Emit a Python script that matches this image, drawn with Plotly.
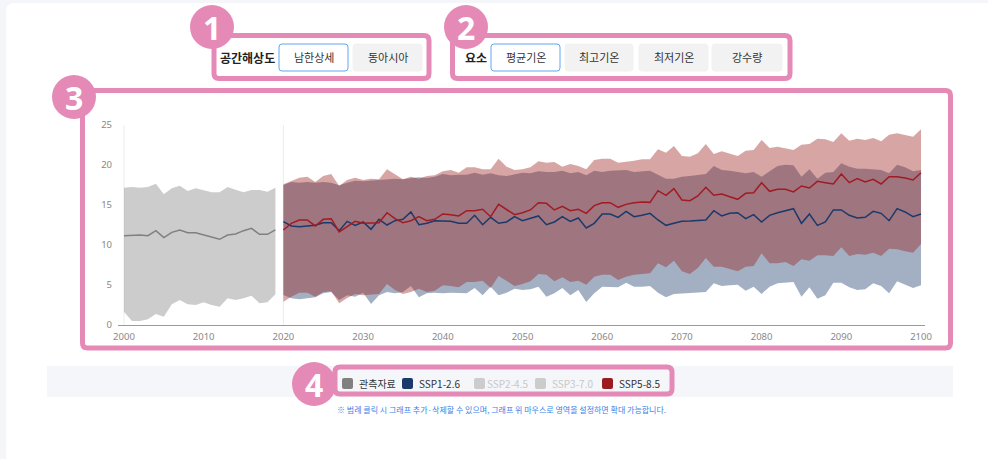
import plotly.graph_objects as go

# ---- figure size (pixels) ----
W, H = 988, 459

# ---- observed data 2000-2019 ----
obs_years = list(range(2000, 2020))
obs_mean = [11.17, 11.25, 11.25, 11.17, 11.79, 10.92, 11.58, 11.88, 11.54, 11.54,
            11.25, 10.96, 10.71, 11.25, 11.38, 11.79, 12.08, 11.33, 11.33, 11.88]
obs_upper = [17.17, 17.25, 17.17, 17.25, 17.67, 16.33, 17.08, 17.42, 16.75, 17.08,
             16.83, 16.58, 16.58, 17.25, 16.92, 16.58, 16.88, 16.88, 16.67, 17.17]
obs_lower = [1.67, 0.5, 0.5, 0.71, 1.38, 1.04, 2.58, 3.13, 2.58, 2.5,
             2.83, 2.5, 2.29, 3.33, 3.13, 3.33, 3.67, 2.71, 2.83, 3.83]

# ---- scenario projections 2020-2100 ----
proj_years = list(range(2020, 2101))

ssp126_mean = [12.92, 12.38, 12.29, 12.38, 12.46, 12.79, 12.79, 11.79, 12.96, 12.46,
               12.88, 11.96, 13.21, 12.5, 13.04, 13.21, 14.13, 12.54, 12.71, 13.04,
               13.04, 12.96, 12.71, 12.71, 13.71, 12.54, 13.46, 12.71, 12.88, 13.54,
               13.04, 13.29, 13.63, 12.54, 12.88, 13.54, 12.96, 13.38, 12.13, 12.71,
               13.88,
               13.88, 13.46, 14.21, 13.54, 13.71, 13.96, 13.13, 12.46, 12.71, 12.96,
               13.0, 13.04, 13.13, 14.29, 13.63, 13.96, 14.04, 13.29, 13.79, 12.88,
               13.71, 14.04, 14.29, 14.54, 12.71, 13.88, 12.46, 12.88, 14.38, 14.38,
               13.71, 13.38, 13.46, 14.21, 13.96, 13.04, 14.54, 14.13, 13.54, 13.88]
ssp126_upper = [17.5, 17.88, 17.79, 17.88, 17.79, 17.88, 17.79, 17.46, 17.79, 18.04,
                17.96, 18.04, 18.13, 18.29, 18.29, 18.21, 18.38, 18.46, 18.38, 18.54,
                18.88, 18.71, 18.79, 18.79, 19.04, 18.79, 18.96, 18.71, 18.63, 18.88,
                19.04, 18.96, 19.21, 19.13, 19.13, 19.29, 18.96, 19.13, 18.71, 19.29,
                19.13,
                19.29, 19.38, 19.38, 19.13, 19.21, 19.29, 18.79, 18.29, 18.29, 18.54,
                18.63, 18.71, 18.88, 19.88, 19.38, 19.29, 19.13, 18.96, 19.13, 18.54,
                19.21, 19.88, 20.04, 19.96, 18.54, 19.46, 18.29, 19.04, 19.13, 20.21,
                19.79, 19.54, 19.54, 19.46, 19.38, 18.96, 20.04, 19.71, 19.21, 19.38]
ssp126_lower = [3.75, 3.33, 3.21, 3.29, 3.46, 3.96, 4.13, 3.13, 3.71, 3.54,
                4.04, 2.63, 3.71, 4.13, 3.96, 4.13, 4.88, 3.46, 3.96, 4.04,
                3.96, 4.04, 4.04, 3.96, 4.63, 3.71, 4.79, 3.71, 4.04, 4.54,
                4.38, 4.46, 4.79, 3.54, 3.96, 4.63, 3.71, 4.38, 2.88, 3.96,
                4.79,
                4.79, 4.71, 5.29, 4.79, 4.79, 4.88, 4.04, 3.46, 3.88, 3.96,
                3.96, 4.04, 4.13, 5.21, 4.88, 4.96, 5.04, 4.29, 4.79, 3.88,
                4.79, 5.21, 5.29, 5.38, 3.54, 4.71, 3.29, 3.71, 5.29, 5.29,
                4.71, 4.38, 4.46, 5.21, 4.88, 3.96, 5.46, 5.04, 4.63, 4.96]

ssp585_mean = [11.88, 12.71, 13.13, 13.13, 12.38, 13.21, 13.29, 11.63, 12.29, 12.96,
               12.71, 12.71, 12.79, 14.04, 13.29, 12.79, 13.04, 13.54, 13.04, 13.21,
               13.88, 13.79, 13.63, 14.29, 14.29, 14.46, 13.54, 15.08, 14.38, 13.79,
               14.04, 14.38, 15.29, 15.21, 14.38, 14.83, 14.29, 14.46, 13.96, 14.92,
               15.29,
               15.29, 14.71, 15.08, 15.29, 15.38, 15.33, 16.79, 16.21, 17.04, 15.63,
               15.54, 16.13, 17.21, 16.21, 16.38, 16.04, 15.71, 16.46, 16.54, 17.79,
               16.71, 16.96, 16.96, 16.63, 17.38, 17.13, 17.96, 17.79, 17.63, 18.88,
               17.79, 18.29, 17.88, 18.21, 17.63, 18.54, 18.54, 18.38, 18.13, 19.04]
ssp585_upper = [17.6, 18.04, 18.42, 18.54, 17.88, 18.63, 18.88, 17.38, 18.13, 18.42,
                18.13, 18.29, 18.21, 19.46, 18.88, 18.21, 18.54, 18.29, 18.63, 18.71,
                19.21, 19.38, 19.04, 19.71, 19.71, 19.46, 19.46, 20.79, 19.79, 19.38,
                19.46, 19.71, 20.46, 20.29, 20.38, 19.79, 20.13, 19.88, 19.46, 20.63,
                20.79,
                20.79, 20.29, 20.38, 20.54, 20.71, 20.71, 21.96, 21.54, 22.38, 21.13,
                21.04, 21.46, 22.63, 21.38, 21.71, 21.46, 21.13, 21.79, 21.88, 23.13,
                22.13, 22.29, 22.13, 21.88, 22.54, 22.63, 23.29, 23.21, 22.88, 23.96,
                23.04, 23.29, 23.13, 23.38, 22.96, 23.79, 23.96, 23.71, 23.54, 24.46]
ssp585_lower = [2.92, 3.54, 4.04, 4.04, 3.54, 4.13, 4.21, 2.71, 3.38, 3.88,
                3.71, 3.79, 3.88, 5.13, 4.38, 3.88, 4.13, 4.54, 4.13, 4.29,
                4.96, 4.88, 4.71, 5.38, 5.38, 5.54, 4.63, 6.13, 5.46, 4.88,
                5.13, 5.46, 6.38, 6.29, 5.46, 5.96, 5.38, 5.54, 5.04, 6.04,
                6.29,
                6.29, 5.63, 6.04, 6.29, 6.38, 6.46, 7.71, 7.21, 8.04, 6.71,
                6.38, 7.13, 8.38, 7.29, 7.29, 6.96, 6.71, 7.29, 7.38, 8.96,
                7.71, 7.71, 7.88, 7.38, 8.21, 8.04, 8.71, 8.71, 8.63, 9.71,
                8.63, 8.88, 8.79, 9.04, 8.63, 9.54, 9.46, 9.21, 9.04, 10.13]

# ---- UI texts ----
resolution_label = "공간해상도"
resolution_options = ["남한상세", "동아시아"]
element_label = "요소"
element_options = ["평균기온", "최고기온", "최저기온", "강수량"]
legend_names = ["관측자료", "SSP1-2.6", "SSP2-4.5", "SSP3-7.0", "SSP5-8.5"]
legend_active = [True, True, False, False, True]
legend_colors = ["#808080", "#1b3a6b", "#cccccc", "#cccccc", "#9b1c20"]
note_text = "※ 범례 클릭 시 그래프 추가·삭제할 수 있으며, 그래프 위 마우스로 영역을 설정하면 확대 가능합니다."

KR = "Noto Sans CJK KR"
PINK = "#e58ab7"


def px(x):
    """pixel x -> paper fraction"""
    return x / W


def py(y):
    """pixel y (downward) -> paper fraction"""
    return 1 - y / H


def rounded_path(x0, y0, x1, y1, r):
    parts = [
        f"M{px(x0 + r)},{py(y0)}",
        f"L{px(x1 - r)},{py(y0)}",
        f"Q{px(x1)},{py(y0)} {px(x1)},{py(y0 + r)}",
        f"L{px(x1)},{py(y1 - r)}",
        f"Q{px(x1)},{py(y1)} {px(x1 - r)},{py(y1)}",
        f"L{px(x0 + r)},{py(y1)}",
        f"Q{px(x0)},{py(y1)} {px(x0)},{py(y1 - r)}",
        f"L{px(x0)},{py(y0 + r)}",
        f"Q{px(x0)},{py(y0)} {px(x0 + r)},{py(y0)}",
        "Z",
    ]
    return " ".join(parts)


def label(text, x, y, size, color, family=KR, xanchor="center"):
    return dict(text=text, x=px(x), y=py(y), xref="paper", yref="paper",
                xanchor=xanchor, yanchor="middle", showarrow=False,
                font=dict(family=family, size=size, color=color))


fig = go.Figure()


def add_band(xs, lower, upper, fillcolor):
    fig.add_trace(go.Scatter(x=xs, y=lower, mode="lines", line=dict(width=0),
                             hoverinfo="skip", showlegend=False))
    fig.add_trace(go.Scatter(x=xs, y=upper, mode="lines", line=dict(width=0),
                             fill="tonexty", fillcolor=fillcolor,
                             hoverinfo="skip", showlegend=False))


add_band(obs_years, obs_lower, obs_upper, "rgba(128,128,128,0.4)")
add_band(proj_years, ssp126_lower, ssp126_upper, "rgba(26,58,107,0.4)")
add_band(proj_years, ssp585_lower, ssp585_upper, "rgba(152,30,27,0.4)")

fig.add_trace(go.Scatter(x=obs_years, y=obs_mean, mode="lines", name="관측자료",
                         line=dict(color="#808080", width=1.5), showlegend=False))
fig.add_trace(go.Scatter(x=proj_years, y=ssp126_mean, mode="lines", name="SSP1-2.6",
                         line=dict(color="#1b3a6b", width=1.5), showlegend=False))
fig.add_trace(go.Scatter(x=proj_years, y=ssp585_mean, mode="lines", name="SSP5-8.5",
                         line=dict(color="#a31b22", width=1.5), showlegend=False))

shapes = []
annotations = []

# page card on a light page background
shapes.append(dict(type="path", xref="paper", yref="paper", layer="below",
                   path=rounded_path(6, 3, 1010, 480, 8),
                   fillcolor="white", line=dict(width=0)))
# faint separators at the start of each period
for xv in (2000, 2020):
    shapes.append(dict(type="line", xref="x", yref="y", layer="below",
                       x0=xv, x1=xv, y0=0, y1=25,
                       line=dict(color="#ececec", width=1)))
# legend strip
shapes.append(dict(type="rect", xref="paper", yref="paper", layer="below",
                   x0=px(47), x1=px(953), y0=py(397), y1=py(366),
                   fillcolor="#f5f6fa", line=dict(width=0)))

# resolution selector
annotations.append(label(f"<b>{resolution_label}</b>", 247, 57, 12, "#222"))
res_boxes = [(279, 348), (353, 422)]
for i, (text, (bx0, bx1)) in enumerate(zip(resolution_options, res_boxes)):
    active = i == 0
    shapes.append(dict(type="path", xref="paper", yref="paper",
                       path=rounded_path(bx0, 44, bx1, 71, 3),
                       fillcolor="white" if active else "#f2f2f2",
                       line=dict(color="#62a6f2" if active else "#f2f2f2", width=1)))
    annotations.append(label(text, (bx0 + bx1) / 2, 57.5, 11, "#333"))

# element selector
annotations.append(label(f"<b>{element_label}</b>", 476, 57, 12, "#222"))
el_boxes = [(491, 560), (565, 633), (639, 708), (712, 782)]
for i, (text, (bx0, bx1)) in enumerate(zip(element_options, el_boxes)):
    active = i == 0
    shapes.append(dict(type="path", xref="paper", yref="paper",
                       path=rounded_path(bx0, 44, bx1, 71, 3),
                       fillcolor="white" if active else "#f2f2f2",
                       line=dict(color="#62a6f2" if active else "#f2f2f2", width=1)))
    annotations.append(label(text, (bx0 + bx1) / 2, 57.5, 11, "#333"))

# legend items
sq_x = [342, 402, 474, 535, 602]
txt_x = [357, 417, 485, 550, 617]
for name, on, col, sx, tx in zip(legend_names, legend_active, legend_colors, sq_x, txt_x):
    shapes.append(dict(type="path", xref="paper", yref="paper",
                       path=rounded_path(sx, 378, sx + 11, 389, 2),
                       fillcolor=col, line=dict(width=0)))
    annotations.append(label(name, tx, 383.5, 10, "#333" if on else "#c8c8c8",
                             xanchor="left"))

annotations.append(label(note_text, 501, 409, 8, "#3b82e6"))

# callout frames
for (bx0, by0, bx1, by1) in [(214, 35.5, 429, 78.5), (452.5, 35.5, 790, 78.5),
                             (82.5, 90.5, 950.5, 348), (335, 367, 672, 394)]:
    shapes.append(dict(type="path", xref="paper", yref="paper",
                       path=rounded_path(bx0, by0, bx1, by1, 5),
                       line=dict(color=PINK, width=5)))

for num, (cx, cy) in zip(["1", "2", "3", "4"], [(212, 27), (466, 27), (74, 97), (314, 384)]):
    r = 22
    shapes.append(dict(type="circle", xref="paper", yref="paper",
                       x0=px(cx - r), x1=px(cx + r), y0=py(cy + r), y1=py(cy - r),
                       fillcolor=PINK, line=dict(width=0)))
    annotations.append(label(f"<b>{num}</b>", cx, cy, 32, "white", family="Noto Sans"))

fig.update_layout(
    width=W, height=H,
    margin=dict(l=0, r=0, t=0, b=0, autoexpand=False),
    paper_bgcolor="#f5f6fa",
    plot_bgcolor="rgba(0,0,0,0)",
    showlegend=False,
    shapes=shapes,
    annotations=annotations,
    xaxis=dict(domain=[px(118), px(925)], range=[1999.25, 2100.5], automargin=False,
               tickvals=list(range(2000, 2101, 10)), showline=True,
               linecolor="#9a9a9a", linewidth=1, showgrid=False, zeroline=False,
               ticks="", ticklabelstandoff=3,
               tickfont=dict(family="Noto Sans", size=9.5, color="#888")),
    yaxis=dict(domain=[py(325), py(125)], range=[0, 25], automargin=False,
               tickvals=[0, 5, 10, 15, 20, 25], showline=False, showgrid=False,
               zeroline=False, ticks="", ticklabelstandoff=5,
               tickfont=dict(family="Noto Sans", size=9.5, color="#888")),
)

fig.write_html("out.html")
